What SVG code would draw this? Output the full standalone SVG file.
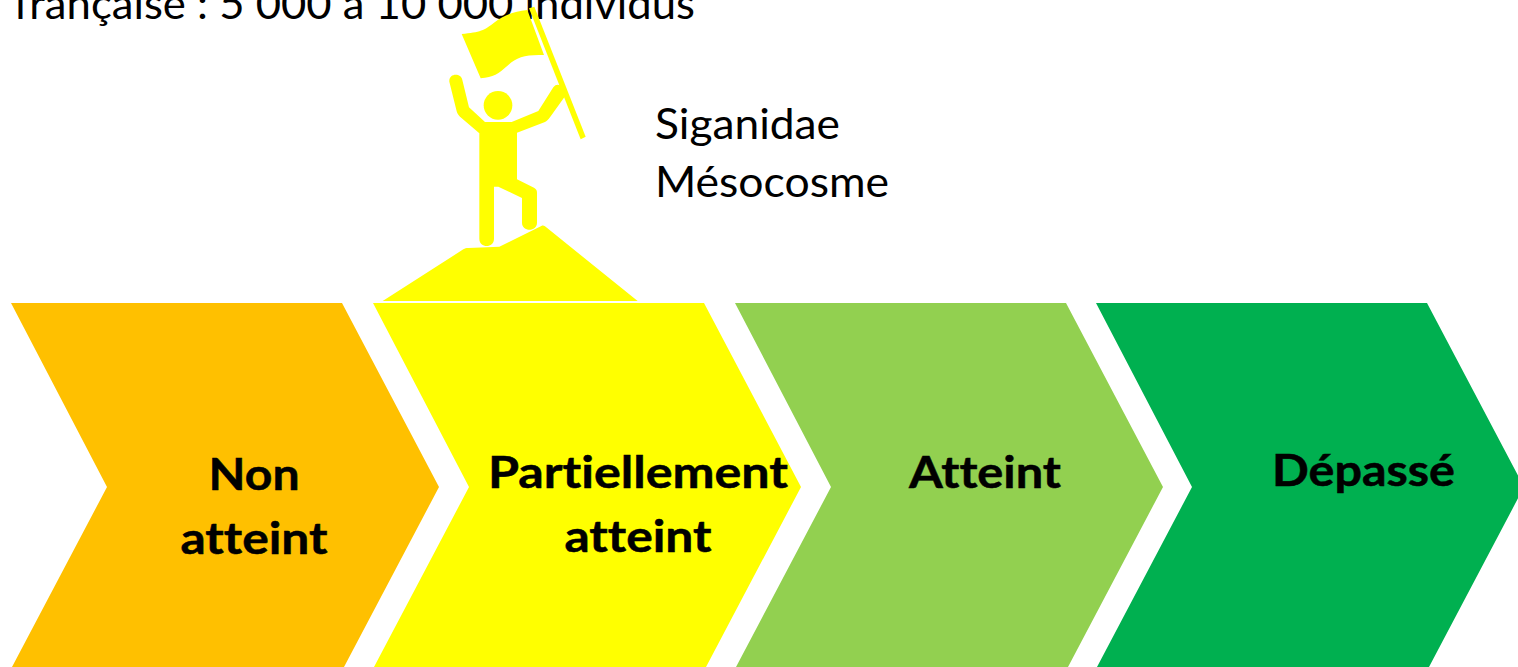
<svg xmlns="http://www.w3.org/2000/svg" width="1518" height="667" viewBox="0 0 1518 667">
<style>
text{font-family:Lato,"Open Sans","Liberation Sans",sans-serif;fill:#000;font-variant-ligatures:none}
.r{font-size:42px}
.b{font-size:44px;font-weight:700;text-anchor:middle;stroke:#000;stroke-width:.5px}
</style>
<defs><path id="chev" d="M0 0H331L428 184L333 364H1L96 184Z"/></defs>
<rect width="1518" height="667" fill="#fff"/>
<g id="caption"><text class="r" x="14" y="19" textLength="681" lengthAdjust="spacingAndGlyphs">française : 5 000 à 10 000 individus</text></g>
<g id="connectors"/>
<g id="figure" fill="#ff0" transform="translate(370 0) scale(.33333)">
<path d="M275 102C330 98 345 90 370 70C405 42 430 36 472 30L522 165C470 163 440 170 415 195C385 222 370 232 332 235Z"/>
<path d="M477 25L493 20L647 410L632 418Z"/>
<circle cx="384" cy="316" r="43"/>
<path d="M238 245C236 218 274 218 277 240L297 322L345 366H425L505 333L550 262C558 252 568 252 578 262L583 292L540 352C534 360 530 363 525 366L441 398V538L492 563C498 567 501 570 501 578V668C501 696 456 696 456 668V594L385 560H372V716C372 745 328 745 328 716V400L270 350C264 345 262 340 260 334Z"/>
<path d="M38 903L280 748C285 745 288 744 295 744L388 740L514 678C518 676 521 676 525 679L803 903Z"/>
</g>
<g id="species-label">
<text class="r" x="655" y="139" textLength="185" lengthAdjust="spacingAndGlyphs">Siganidae</text>
<text class="r" x="655" y="197" textLength="234" lengthAdjust="spacingAndGlyphs">Mésocosme</text>
</g>
<g id="non-atteint">
<use href="#chev" x="11" y="303" fill="#ffc000"/>
<text class="b" x="254" y="490" textLength="91" lengthAdjust="spacingAndGlyphs">Non</text>
<text class="b" x="254" y="554" textLength="147" lengthAdjust="spacingAndGlyphs">atteint</text>
</g>
<g id="partiellement-atteint">
<use href="#chev" x="373" y="303" fill="#ff0"/>
<text class="b" x="638" y="488" textLength="300" lengthAdjust="spacingAndGlyphs">Partiellement</text>
<text class="b" x="638" y="552" textLength="147" lengthAdjust="spacingAndGlyphs">atteint</text>
</g>
<g id="atteint">
<use href="#chev" x="735" y="303" fill="#92d050"/>
<text class="b" x="985" y="488" textLength="152" lengthAdjust="spacingAndGlyphs">Atteint</text>
</g>
<g id="depasse">
<use href="#chev" x="1096" y="303" fill="#00b050"/>
<text class="b" x="1363.500" y="486" textLength="183" lengthAdjust="spacingAndGlyphs">Dépassé</text>
</g>
</svg>
